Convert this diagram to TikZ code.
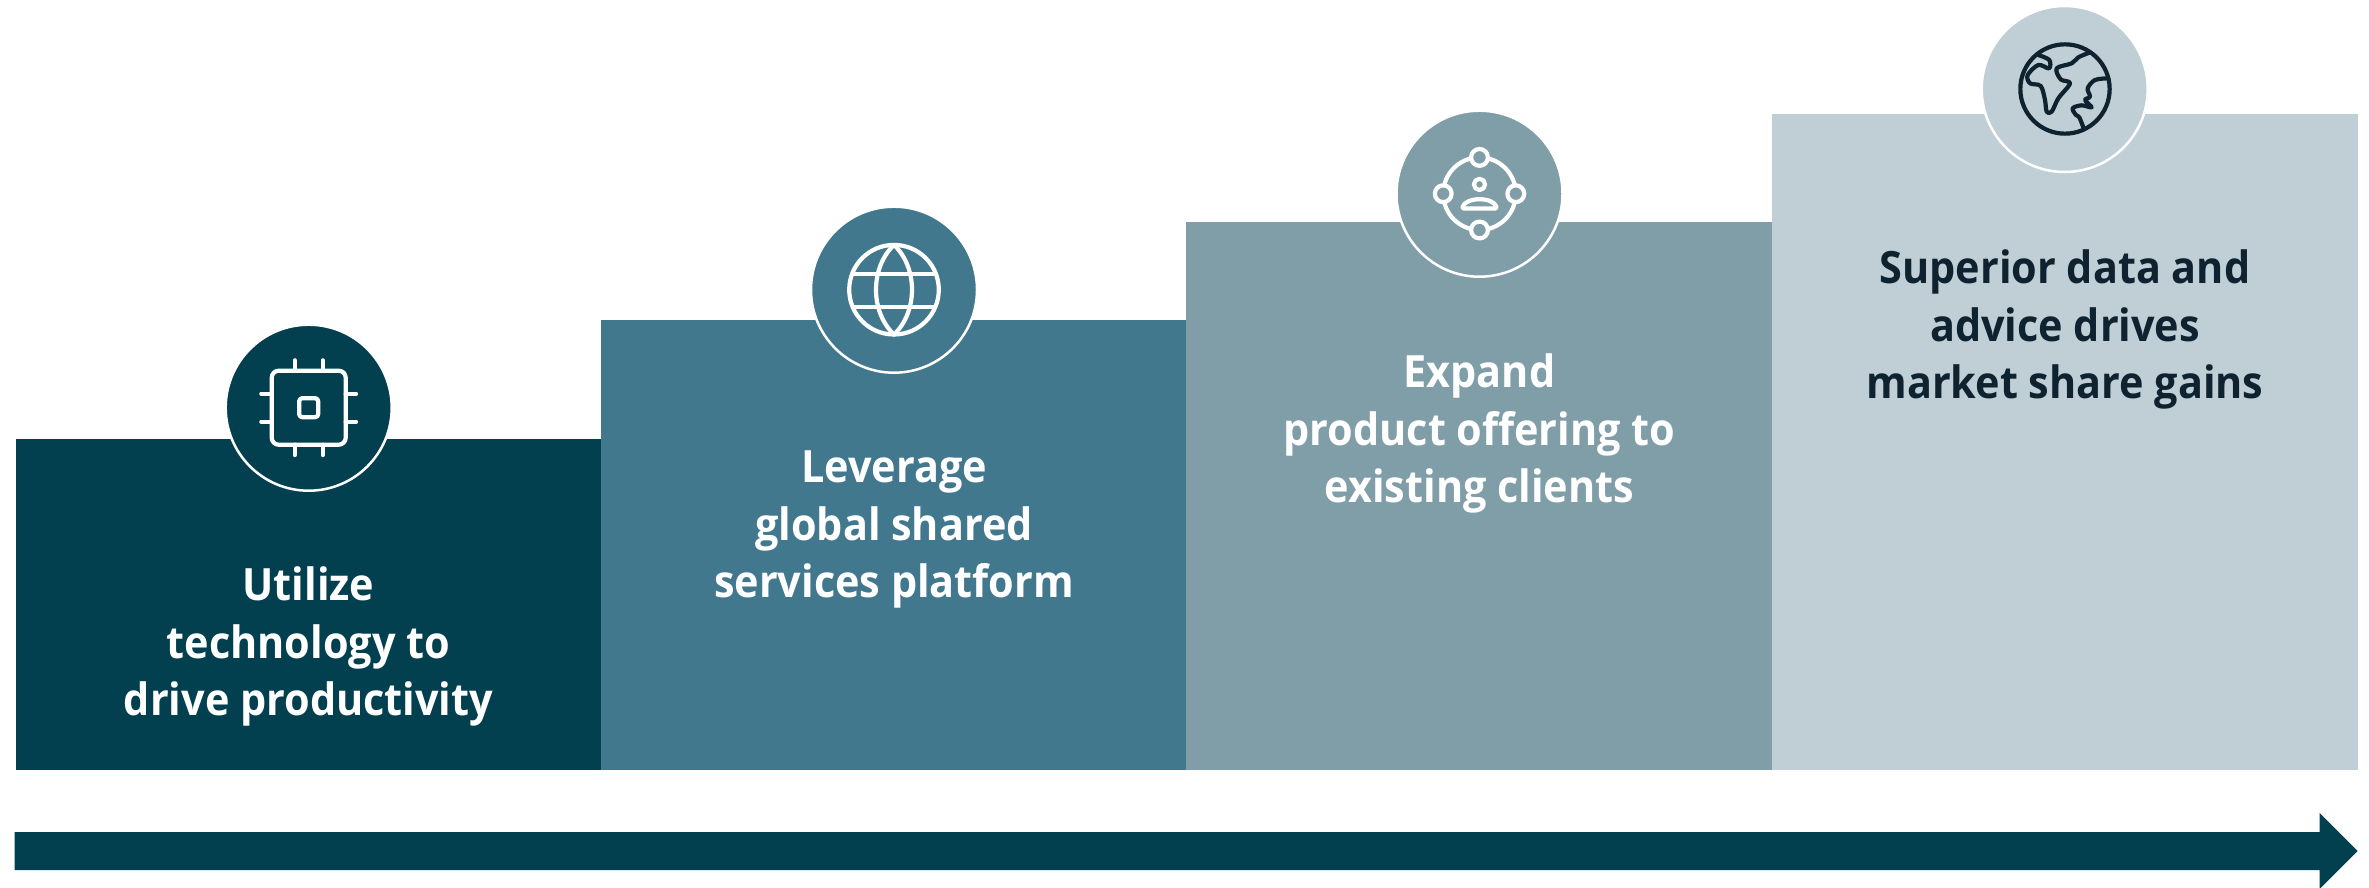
\documentclass[tikz,border=0pt]{standalone}
\usepackage{fontspec}
\setmainfont{Open Sans}[FakeStretch=0.93]
\definecolor{cA}{HTML}{02404F}
\definecolor{cB}{HTML}{41788E}
\definecolor{cC}{HTML}{809EA8}
\definecolor{cD}{HTML}{BFCFD5}
\definecolor{cInk}{HTML}{0F2230}
\tikzset{
  x=1pt,y=-1pt,
  badge/.style={circle,draw=white,line width=2.5pt,minimum size=166pt,inner sep=0pt,outer sep=0pt},
  label/.style={align=center,font=\fontsize{44.5}{57.7}\selectfont\bfseries,inner sep=0pt},
  icon/.style={line width=4.2pt,line cap=round,line join=round},
}
\begin{document}
\begin{tikzpicture}
\useasboundingbox (0,0) rectangle (2369,887);
\fill[cA] (16,439) rectangle (601.5,770);
\fill[cB] (601,320) rectangle (1186.5,770);
\fill[cC] (1186,222) rectangle (1772.5,770);
\fill[cD] (1772,114) rectangle (2358,770);
\fill[cA] (14.5,832) -- (2319.5,832) -- (2319.5,813) -- (2357.5,851) -- (2319.5,889) -- (2319.5,870) -- (14.5,870) -- cycle;
% badges
\node[badge,fill=cA] (b1) at (308.7,407.7) {};
\node[badge,fill=cB] (b2) at (894,289.7) {};
\node[badge,fill=cC] (b3) at (1479.5,193.7) {};
\node[badge,fill=cD] (b4) at (2064.7,89) {};
% chip
\begin{scope}[shift={(b1.center)},icon,draw=white]
\draw[white,rounded corners=7pt] (-37,-37) rectangle (37,37);
\draw[white,rounded corners=3pt] (-9.5,-9.5) rectangle (9.5,9.5);
\foreach \o in {-14,14}{
  \draw[white] (\o,-37) -- (\o,-47.4);
  \draw[white] (\o,37) -- (\o,47.4);
  \draw[white] (-37,\o) -- (-47.4,\o);
  \draw[white] (37,\o) -- (47.4,\o);
}
\end{scope}
% globe
\begin{scope}[shift={(b2.center)},icon]
\draw[white] (0,0) circle[radius=44.8];
\draw[white] (0,-44.8) .. controls (-24,-22) and (-24,22) .. (0,44.8) .. controls (24,22) and (24,-22) .. (0,-44.8);
\draw[white] (-40.5,-16) -- (40.5,-16);
\draw[white] (-40.5,17) -- (40.5,17);
\end{scope}
% network
\begin{scope}[shift={(b3.center)},icon]
\draw[white] (0,0) circle[radius=36.3];
\foreach \a/\b in {0/-36.3,0/36.3,-36.3/0,36.3/0}
  \draw[white,fill=cC] (\a,\b) circle[radius=8.4];
\draw[white] (0,-9.3) circle[radius=5.6];
\draw[white,rounded corners=1.5pt] (-17.5,14.8) .. controls (-14,2.9) and (14,2.9) .. (17.5,14.8) -- cycle;
\end{scope}
% earth
\begin{scope}[shift={(1950,0)},x=0.3333pt,y=-0.3333pt,icon]
\draw[cInk] (345,267) circle[radius=134];
\draw[cInk] plot[smooth,tension=0.55] coordinates {(265,165) (298,180) (297,205) (265,195) (233,225) (240,250) (272,258) (285,300) (290,335) (305,335) (325,295) (360,250) (332,238) (320,205) (365,190) (385,172) (418,158)};
\draw[cInk] plot[smooth,tension=0.55] coordinates {(475,235) (435,240) (413,265) (420,290) (405,300) (425,322) (395,316) (368,325) (378,345) (388,352) (402,388)};
\end{scope}
% labels
\node[label,text=white] (t1) at (308.5,646.5) {Utilize\\technology to\\drive productivity};
\node[label,text=white] (t2) at (894,529.5) {Leverage\\global shared\\services platform};
\node[label,text=white] (t3) at (1479.5,433.5) {Expand\\product offering to\\existing clients};
\node[label,text=cInk] (t4) at (2065,329.5) {Superior data and\\advice drives\\market share gains};
\end{tikzpicture}
\end{document}
